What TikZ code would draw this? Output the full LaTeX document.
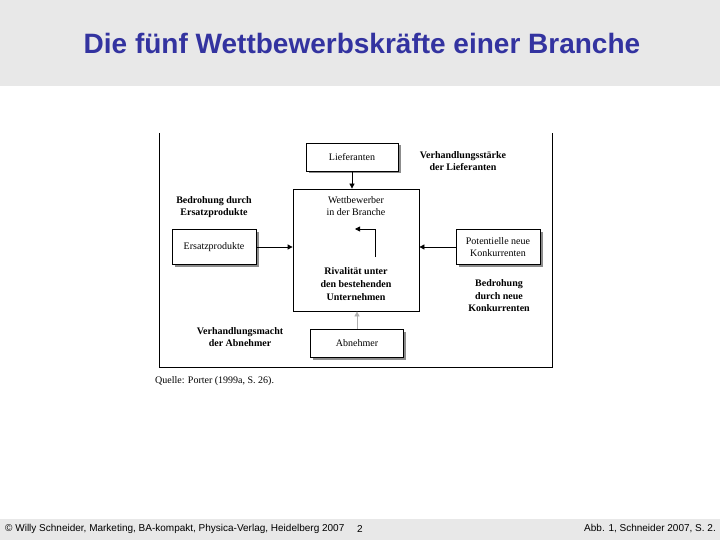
\documentclass[tikz,border=0pt]{standalone}
\usepackage{fontspec}
\setmainfont{Liberation Serif}
\newfontfamily\headfont{Liberation Sans}
\usepackage{xcolor}
\usetikzlibrary{positioning, arrows.meta, shadows}
\definecolor{bandgray}{HTML}{E8E8E8}
\definecolor{titleblue}{HTML}{3333A0}
\definecolor{shadowgray}{HTML}{8C8C8C}

\begin{document}
\begin{tikzpicture}[
        x=1pt, y=-1pt,
        force/.style={rectangle, draw=black, line width=0.8pt, fill=white,
                align=center, font=\fontsize{10}{12}\selectfont,
                inner sep=0pt,
                drop shadow={shadow xshift=2.5pt, shadow yshift=-2.5pt,
                        fill=shadowgray, opacity=1}},
        core/.style={rectangle, draw=black, line width=0.8pt, fill=white,
                minimum width=126pt, minimum height=122pt, inner sep=0pt},
        coretext/.style={align=center, font=\fontsize{10}{12.5}\selectfont,
                inner sep=0pt},
        forcelbl/.style={align=center, font=\fontsize{10}{12.5}\selectfont\bfseries,
                inner sep=0pt},
        footlbl/.style={font=\headfont\fontsize{10}{12}\selectfont, inner sep=0pt},
        arr/.style={-{Triangle[length=5pt, width=5pt]}, black, line width=0.8pt},
        frameline/.style={black, line width=1pt},
    ]
    \useasboundingbox (0,0) rectangle (720,540);

    % header and footer bands
    \fill[bandgray] (0,0) rectangle (720,86);
    \fill[bandgray] (0,519) rectangle (720,540);
    \node[font=\headfont\fontsize{28}{31}\selectfont\bfseries, text=titleblue]
        (title) at (362,43) {Die fünf Wettbewerbskräfte einer Branche};

    % open frame round the figure
    \coordinate (frameTL) at (159,133);
    \coordinate (frameBR) at (552,367);
    \draw[frameline] (frameTL) |- (frameBR) -- (frameBR |- frameTL);

    \node[core] (branche) at (356,250) {};
    \node[coretext] (wettbewerber) at (356,206)
        {Wettbewerber\\in der Branche};
    \node[coretext, font=\fontsize{10}{12.8}\selectfont\bfseries] (rivalitaet)
        at (356,284) {Rivalität unter\\den bestehenden\\Unternehmen};

    \node[force, minimum width=92pt, minimum height=28pt]
        (lieferanten) at (352,157) {Lieferanten};
    \node[force, minimum width=84pt, minimum height=35pt]
        (ersatz) at (214,247) {Ersatzprodukte};
    \node[force, minimum width=84pt, minimum height=35pt]
        (neue) at (498,247) {Potentielle neue\\Konkurrenten};
    \node[force, minimum width=93pt, minimum height=28pt]
        (abnehmer) at (357,343) {Abnehmer};

    \node[forcelbl] (lblLief) at (463,161)
        {Verhandlungsstärke\\der Lieferanten};
    \node[forcelbl] (lblErsatz) at (214,207)
        {Bedrohung durch\\Ersatzprodukte};
    \node[forcelbl] (lblNeue) at (499,296)
        {Bedrohung\\durch neue\\Konkurrenten};
    \node[forcelbl] (lblAbn) at (240,337)
        {Verhandlungsmacht\\der Abnehmer};

    \draw[arr] (lieferanten) -- (lieferanten |- branche.north);
    \draw[arr] (ersatz) -- (ersatz -| branche.west);
    \draw[arr] (neue) -- (neue -| branche.east);
    \draw[arr, draw=shadowgray!70] (abnehmer) -- (abnehmer |- branche.south);

    \coordinate (rivalStart) at (375,257);
    \coordinate (rivalEnd) at (355,229);
    \draw[arr] (rivalStart) |- (rivalEnd);

    \node[anchor=west, font=\fontsize{10}{12}\selectfont, inner sep=0pt]
        (quelle) at (155,381) {Quelle: Porter (1999a, S. 26).};

    % footer
    \node[footlbl, anchor=west] (copy) at (5,529)
        {© Willy Schneider, Marketing, BA-kompakt, Physica-Verlag, Heidelberg 2007};
    \node[footlbl] (pageno) at (360,529) {2};
    \node[footlbl, anchor=east] (abb) at (716,529) {Abb. 1, Schneider 2007, S. 2.};
\end{tikzpicture}
\end{document}
